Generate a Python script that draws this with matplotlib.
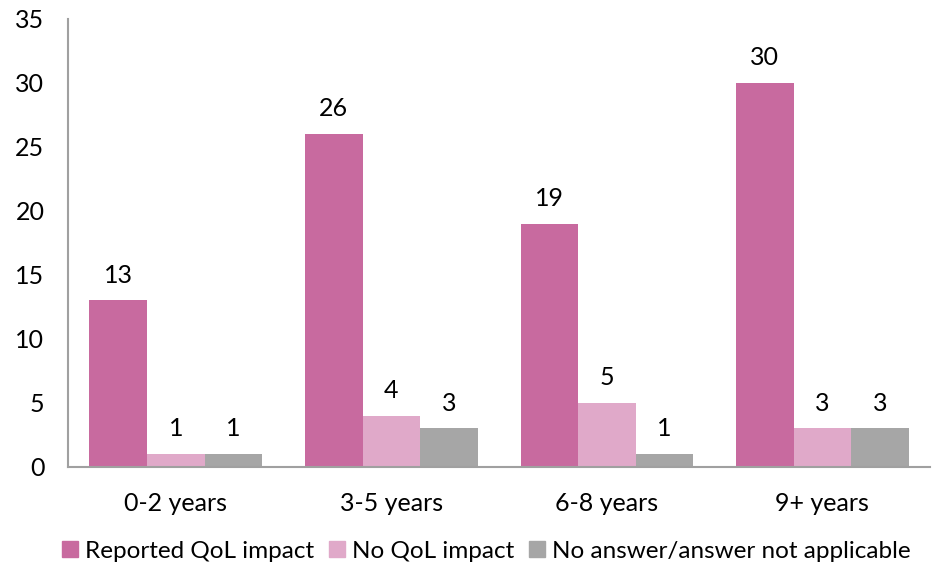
import numpy as np
import matplotlib.pyplot as plt
from matplotlib.patches import Patch

# survey counts by years since diagnosis
groups = ['0-2 years', '3-5 years', '6-8 years', '9+ years']
series = ['Reported QoL impact', 'No QoL impact', 'No answer/answer not applicable']
reported = [13, 26, 19, 30]
no_impact = [1, 4, 5, 3]
no_answer = [1, 3, 1, 3]
colors = ['#C86A9F', '#E0A9C9', '#A6A6A6']

plt.rcParams['font.family'] = ['Lato', 'DejaVu Sans']
fs = 18

fig = plt.figure(figsize=(9.32, 5.70), dpi=100)
ax = fig.add_axes([0.073, 0.181, 0.925, 0.786])

x = np.arange(len(groups))
w = 0.267
for k, (vals, c) in enumerate(zip([reported, no_impact, no_answer], colors)):
    pos = x + (k - 1) * w
    ax.bar(pos, vals, width=w, color=c, label=series[k])
    for px, v in zip(pos, vals):
        ax.annotate(str(v), (px, v), xytext=(0, 10), textcoords='offset points',
                    ha='center', va='bottom', fontsize=fs)

ax.set_xlim(-0.5, len(groups) - 0.5)
ax.set_ylim(0, 35)
ax.set_yticks(range(0, 36, 5))
ax.set_xticks(x)
ax.set_xticklabels(groups)
ax.tick_params(axis='both', length=0, labelsize=fs)
ax.tick_params(axis='y', pad=17)
ax.tick_params(axis='x', pad=18)
for s in ['top', 'right']:
    ax.spines[s].set_visible(False)
for s in ['left', 'bottom']:
    ax.spines[s].set_color('#A0A0A0')
    ax.spines[s].set_linewidth(1.5)

handles = [Patch(color=c) for c in colors]
fig.legend(handles, series, loc='lower center', bbox_to_anchor=(0.522, -0.024), ncol=3,
           frameon=False, fontsize=17.5, handlelength=0.65, handleheight=0.65,
           handletextpad=0.3, columnspacing=0.6)

fig.savefig('out.png', dpi=100)
